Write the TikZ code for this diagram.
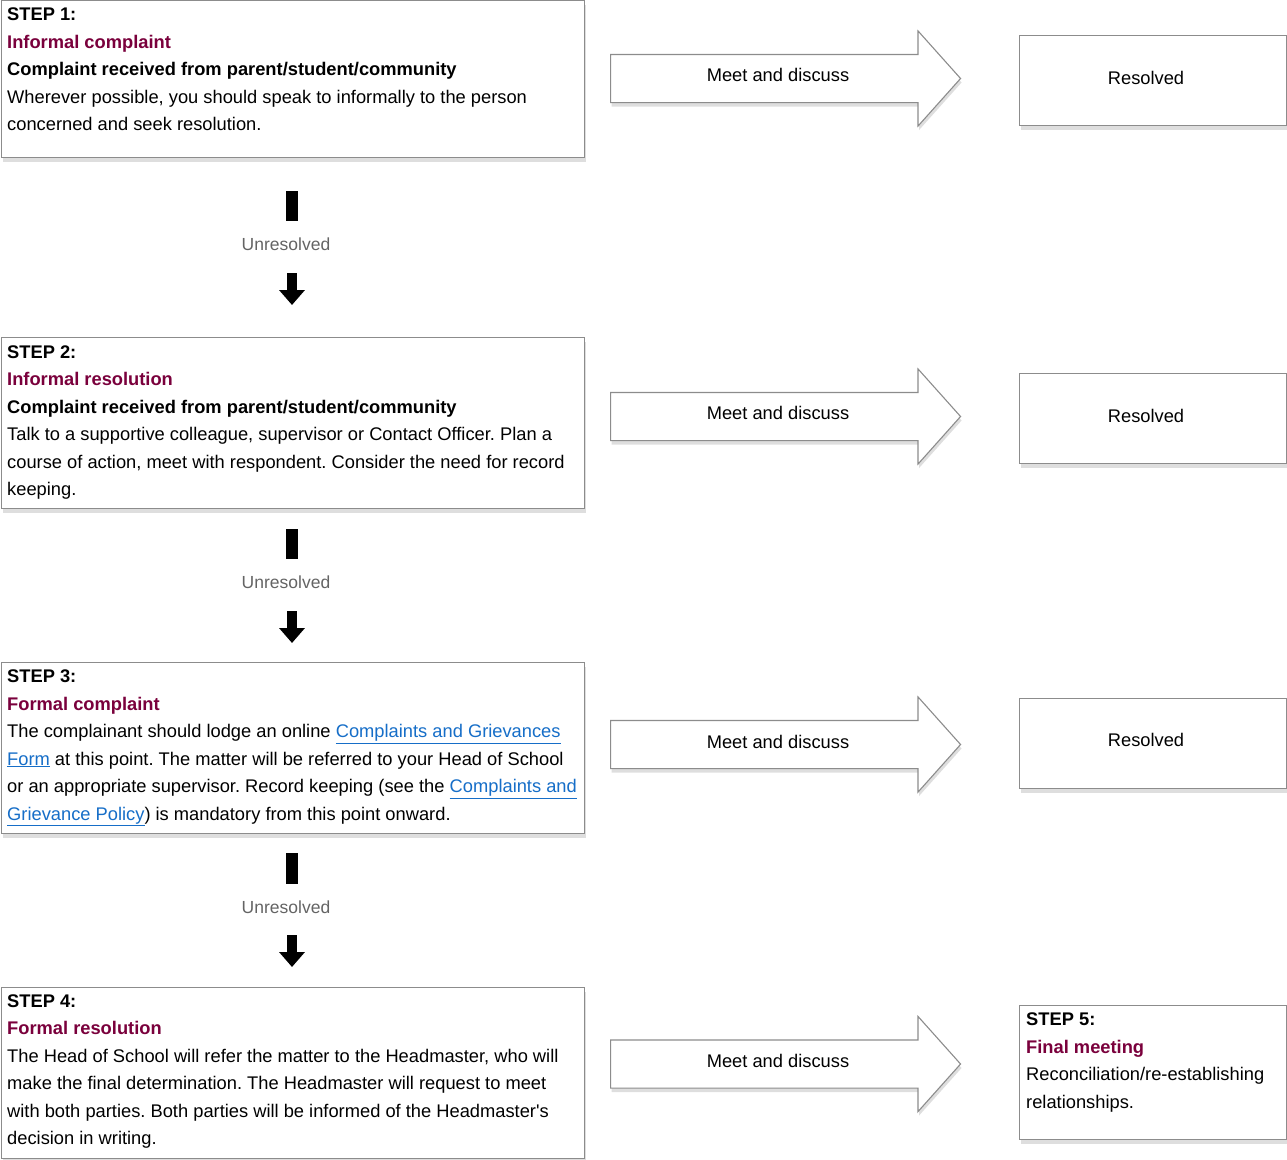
\documentclass[tikz,border=0pt]{standalone}
\usepackage{fontspec}
\setmainfont{Liberation Sans}
\usetikzlibrary{shapes.arrows,shadows,arrows.meta}
\definecolor{maroon}{RGB}{122,0,60}
\definecolor{linkblue}{RGB}{22,110,200}
\definecolor{bordergray}{RGB}{140,140,140}
\definecolor{unresgray}{RGB}{100,100,100}
\newcommand{\lnk}[1]{{\color{linkblue}\underline{#1}}}
\newcommand{\ttl}[1]{{\bfseries\color{maroon}#1}}
\frenchspacing
\begin{document}
\begin{tikzpicture}[x=1pt,y=-1pt,
  shad/.style={drop shadow={shadow xshift=1pt, shadow yshift=-4pt, opacity=0.13, fill=black}},
  box/.style={draw=bordergray, line width=1.1pt, fill=white, rectangle, inner sep=0pt, anchor=north west, shad},
  txt/.style={anchor=base west, align=left, inner sep=0pt, font=\fontsize{18.3}{27.5}\selectfont\frenchspacing},
  ctxt/.style={anchor=base, inner sep=0pt, font=\fontsize{18.3}{27.5}\selectfont},
  unres/.style={anchor=base, inner sep=0pt, text=unresgray, font=\fontsize{17.5}{21}\selectfont},
  barrow/.style={single arrow, draw=bordergray, line width=1.1pt, fill=white, anchor=tail,
    minimum height=350pt, minimum width=0pt, inner xsep=0pt, inner ysep=23.5pt,
    single arrow head extend=23.5pt, single arrow tip angle=96.4, shad},
  shaft/.style={line width=12pt, black},
  shafthead/.style={line width=10pt, black, -{Triangle[width=25pt,length=15pt]}}
]
\useasboundingbox (0,0) rectangle (1287,1159);

% ---------- Step boxes ----------
\node[box, minimum width=583pt, minimum height=157pt] (s1) at (1,0) {};
\node[box, minimum width=583pt, minimum height=171pt] (s2) at (1,337) {};
\node[box, minimum width=583pt, minimum height=171pt] (s3) at (1,662) {};
\node[box, minimum width=583pt, minimum height=171pt] (s4) at (1,987) {};

% text nodes anchored at the baseline of their last line
\node[txt] (s1t) at (7,130.5) {\textbf{STEP 1:}\\
\ttl{Informal complaint}\\
\textbf{Complaint received from parent/student/community}\\
Wherever possible, you should speak to informally to the person\\
concerned and seek resolution.};

\node[txt] (s2t) at (7,495.5) {\textbf{STEP 2:}\\
\ttl{Informal resolution}\\
\textbf{Complaint received from parent/student/community}\\
Talk to a supportive colleague, supervisor or Contact Officer. Plan a\\
course of action, meet with respondent. Consider the need for record\\
keeping.};

\node[txt] (s3t) at (7,820) {\textbf{STEP 3:}\\
\ttl{Formal complaint}\\
The complainant should lodge an online \lnk{Complaints and Grievances}\\
\lnk{Form} at this point. The matter will be referred to your Head of School\\
or an appropriate supervisor. Record keeping (see the \lnk{Complaints and}\\
\lnk{Grievance Policy}) is mandatory from this point onward.};

\node[txt] (s4t) at (7,1144.5) {\textbf{STEP 4:}\\
\ttl{Formal resolution}\\
The Head of School will refer the matter to the Headmaster, who will\\
make the final determination. The Headmaster will request to meet\\
with both parties. Both parties will be informed of the Headmaster\textquotesingle s\\
decision in writing.};

% ---------- Right boxes ----------
\node[box, minimum width=267pt, minimum height=90pt] (r1) at (1019,35) {};
\node[box, minimum width=267pt, minimum height=90pt] (r2) at (1019,373) {};
\node[box, minimum width=267pt, minimum height=90pt] (r3) at (1019,698) {};
\node[box, minimum width=267pt, minimum height=134pt] (s5) at (1019,1005) {};

\node[ctxt] (r1t) at (1146,84) {Resolved};
\node[ctxt] (r2t) at (1146,422) {Resolved};
\node[ctxt] (r3t) at (1146,746.5) {Resolved};

\node[txt] (s5t) at (1026,1108) {\textbf{STEP 5:}\\
\ttl{Final meeting}\\
Reconciliation/re-establishing\\
relationships.};

% ---------- Block arrows ----------
\node[barrow] (a1) at (610,78.5) {};
\node[barrow] (a2) at (610,416.5) {};
\node[barrow] (a3) at (610,744.5) {};
\node[barrow] (a4) at (610,1064) {};
\node[ctxt] (a1t) at (778,81.5) {Meet and discuss};
\node[ctxt] (a2t) at (778,419.5) {Meet and discuss};
\node[ctxt] (a3t) at (778,748) {Meet and discuss};
\node[ctxt] (a4t) at (778,1067.5) {Meet and discuss};

% ---------- Down arrows ----------
\coordinate (d1a) at (292,191); \coordinate (d1b) at (292,221);
\coordinate (d1c) at (292,273); \coordinate (d1d) at (292,305);
\coordinate (d2a) at (292,529); \coordinate (d2b) at (292,559);
\coordinate (d2c) at (292,611); \coordinate (d2d) at (292,643);
\coordinate (d3a) at (292,853); \coordinate (d3b) at (292,884);
\coordinate (d3c) at (292,935); \coordinate (d3d) at (292,967);

\draw[shaft] (d1a) -- (d1b);
\draw[shafthead] (d1c) -- (d1d);
\node[unres] (u1) at (286,250) {Unresolved};
\draw[shaft] (d2a) -- (d2b);
\draw[shafthead] (d2c) -- (d2d);
\node[unres] (u2) at (286,588) {Unresolved};
\draw[shaft] (d3a) -- (d3b);
\draw[shafthead] (d3c) -- (d3d);
\node[unres] (u3) at (286,913) {Unresolved};
\end{tikzpicture}
\end{document}
